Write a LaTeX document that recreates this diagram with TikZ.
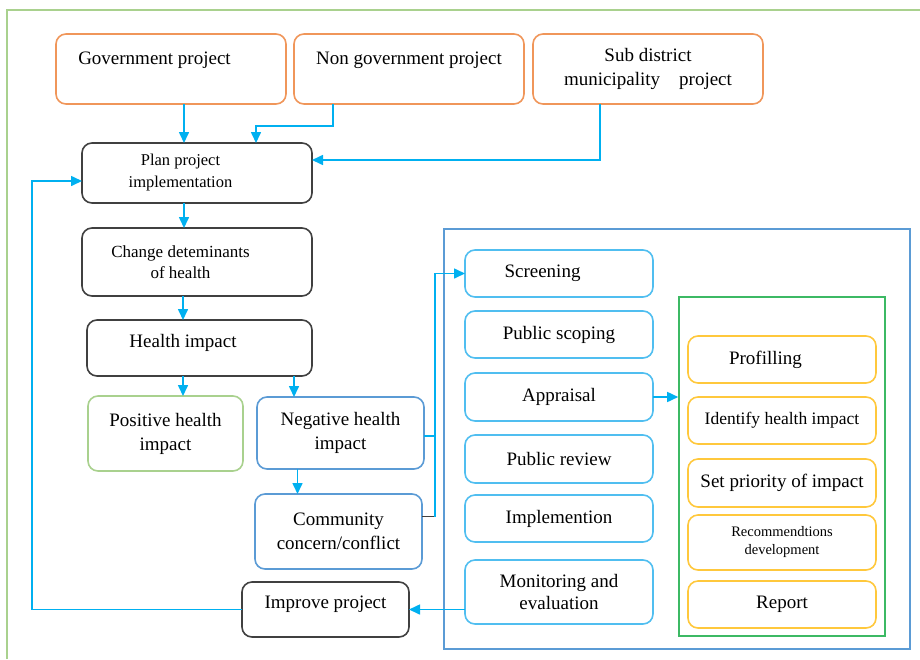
\documentclass[tikz,border=0pt]{standalone}
\usepackage{fontspec}
\setmainfont{Liberation Serif}
\usepackage{tikz}
\usepackage{xcolor}
\usetikzlibrary{positioning}
\usetikzlibrary{arrows.meta}

\definecolor{srcorange}{RGB}{240,150,90}
\definecolor{flowblue}{RGB}{0,176,240}
\definecolor{stepgray}{RGB}{64,64,64}
\definecolor{posgreen}{RGB}{169,209,142}
\definecolor{negblue}{RGB}{91,155,213}
\definecolor{hiacyan}{RGB}{80,190,240}
\definecolor{assessgreen}{RGB}{60,185,100}
\definecolor{taskyellow}{RGB}{255,200,60}
\newcommand{\padr}{\hspace*{33pt}}

\begin{document}
\begin{tikzpicture}[x=1pt, y=-1pt, >={Triangle[length=11pt,width=10pt]},
        box/.style={rounded corners=10pt, line width=1.6pt, align=center, inner sep=2pt, outer sep=0pt, font=\fontsize{19}{24}\selectfont},
        srcbox/.style={box, draw=srcorange, minimum width=230pt, minimum height=70pt},
        stepbox/.style={box, draw=stepgray},
        posbox/.style={box, draw=posgreen, minimum width=155pt, minimum height=75pt},
        negbox/.style={box, draw=negblue, minimum width=167pt, minimum height=72pt},
        hiabox/.style={box, draw=hiacyan, minimum width=188pt, minimum height=47pt},
        taskbox/.style={box, draw=taskyellow, minimum width=188pt, minimum height=47pt},
        flow/.style={->, draw=flowblue, line width=1.6pt},
        stub/.style={draw=stepgray, line width=1.6pt}]
        \useasboundingbox (0,0) rectangle (920,659);
        \draw[posgreen, line width=1.6pt] (7,659) |- (920,10);

        \node[srcbox, text depth=22pt] (gov) at (171,69) {Government project\padr};
        \node[srcbox, text depth=22pt, right=8pt of gov] (nongov) {Non government project};
        \node[srcbox, right=9pt of nongov] (sub) {Sub district\\municipality\quad project};

        \node[stepbox, minimum width=230pt, minimum height=60pt, font=\fontsize{16.5}{22}\selectfont] (plan) at (197,173) {Plan project\padr\\implementation\padr};
        \node[stepbox, below=25pt of plan, minimum width=230pt, minimum height=68pt, font=\fontsize{17}{21}\selectfont] (change) {Change deteminants\padr\\of health\padr};
        \node[stepbox, below=24pt of change, xshift=2.5pt, minimum width=225pt, minimum height=56pt, text depth=14pt] (health) {Health impact\padr};
        \node[posbox] (pos) at (165.5,433.5) {Positive health\\impact};
        \node[negbox] (neg) at (340.5,433) {Negative health\\impact};
        \node[negbox, below=25pt of neg, xshift=-2pt, minimum height=75pt] (comm) {Community\\concern/conflict};
        \node[stepbox, minimum width=167pt, minimum height=55pt, text depth=14pt] (improve) at (325.5,609.5) {Improve project};

        \node[draw=negblue, line width=1.6pt, minimum width=466pt, minimum height=420pt] (hia) at (677,439) {};
        \node[hiabox] (screen) at (559,273.5) {Screening\padr};
        \node[hiabox, below=14pt of screen] (scoping) {Public scoping};
        \node[hiabox, below=15pt of scoping, minimum height=48pt] (apprais) {Appraisal};
        \node[hiabox, below=14pt of apprais, minimum height=48pt] (review) {Public review};
        \node[hiabox, below=12pt of review] (implem) {Implemention};
        \node[hiabox, below=18pt of implem, minimum height=64pt, font=\fontsize{19}{22}\selectfont] (monitor) {Monitoring and\\evaluation};

        \node[draw=assessgreen, line width=1.6pt, minimum width=206pt, minimum height=339pt] (assess) at (782,466.5) {};
        \node[taskbox] (profil) at (782,359.5) {Profilling\padr};
        \node[taskbox, below=14pt of profil, font=\fontsize{17.5}{21}\selectfont] (ident) {Identify health impact};
        \node[taskbox, below=15pt of ident, minimum height=48pt] (prio) {Set priority of impact};
        \node[taskbox, below=8pt of prio, minimum height=55pt, font=\fontsize{14.5}{18}\selectfont] (recom) {Recommendtions\\development};
        \node[taskbox, below=11pt of recom] (report) {Report};

        \draw[flow] ([xshift=13pt]gov.south) -- ([xshift=-13pt]plan.north);
        \draw[flow] ([xshift=-76pt]nongov.south) -- ++(0,22) -| ([xshift=59pt]plan.north);
        \draw[flow] ([xshift=-48pt]sub.south) |- ([yshift=13pt]plan.east);
        \draw[flow] ([xshift=-13pt]plan.south) -- ([xshift=-13pt]change.north);
        \draw[flow] ([xshift=-14pt]change.south) -- ([xshift=-14pt]change.south |- health.north);
        \draw[flow] ([xshift=-16.5pt]health.south) -- ([xshift=-16.5pt]health.south |- pos.north);
        \draw[flow] ([xshift=-46.5pt]neg.north |- health.south) -- ([xshift=-46.5pt]neg.north);
        \draw[flow] ([xshift=-43pt]neg.south) -- ([xshift=-43pt]neg.south |- comm.north);

        \draw[flowblue, line width=1.6pt] ([yshift=-3pt]neg.east) -- ++(11,0);
        \draw[stub] ([yshift=15pt]comm.east) -- ++(13,0);
        \draw[flow] ([yshift=15pt]comm.east) ++(13,0) |- (screen.west);
        \draw[flow] (apprais.east) -- (apprais.east -| assess.west);
        \draw[flow] (monitor.west |- improve.east) -- (improve.east);
        \draw[flow] (improve.west) -- ++(-210,0) |- ([yshift=-8pt]plan.west);
    \end{tikzpicture}
\end{document}
